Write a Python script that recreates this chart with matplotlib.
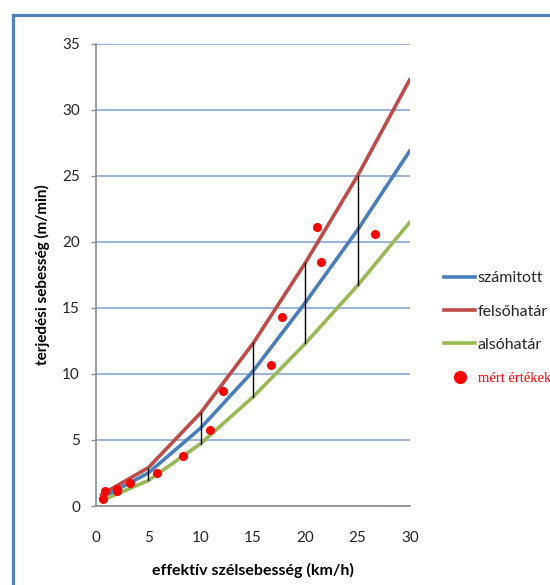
import matplotlib
matplotlib.use("Agg")
import matplotlib.pyplot as plt
from matplotlib.patches import Rectangle
from matplotlib.lines import Line2D

plt.rcParams['font.family'] = ['Lato', 'DejaVu Sans']

# data
x_line = [0.5, 5, 10, 15, 20, 25, 30]
szamitott = [0.6, 2.5, 5.9, 10.2, 15.4, 20.9, 26.9]
felsohatar = [0.85, 2.9, 7.05, 12.3, 18.4, 25.0, 32.3]
alsohatar = [0.4, 1.93, 4.72, 8.25, 12.3, 16.7, 21.5]
err_idx = [1, 2, 3, 4, 5]

mert_x = [0.64, 0.86, 1.98, 2.05, 3.25, 5.8, 8.3, 10.9, 12.1, 16.7, 17.8, 21.1, 21.5, 26.7]
mert_y = [0.54, 1.17, 1.12, 1.32, 1.75, 2.5, 3.8, 5.75, 8.7, 10.65, 14.3, 21.1, 18.5, 20.6]

x_ticks = [0, 5, 10, 15, 20, 25, 30]
y_ticks = [0, 5, 10, 15, 20, 25, 30, 35]

W, H = 550, 585
fig = plt.figure(figsize=(W / 100, H / 100), dpi=100)
ax = fig.add_axes([96 / W, 1 - 506 / H, (410 - 96) / W, (506 - 43.5) / H])

# outer frame
fig.patches.append(Rectangle((13 / W, -0.2), 1.5, 1.2 - 15 / H, transform=fig.transFigure,
                             fill=False, edgecolor='#4F81BD', linewidth=2.3, clip_on=False))

blue, red, green = '#4A7EBB', '#BE4B48', '#98B954'

for i in err_idx:
    ax.plot([x_line[i], x_line[i]], [alsohatar[i], felsohatar[i]], color='black', lw=1.0, zorder=3)

ax.plot(x_line, szamitott, color=blue, lw=2.6, zorder=2, solid_capstyle='round')
ax.plot(x_line, felsohatar, color=red, lw=2.6, zorder=2, solid_capstyle='round')
ax.plot(x_line, alsohatar, color=green, lw=2.6, zorder=2, solid_capstyle='round')
ax.plot(mert_x, mert_y, 'o', color='#FF0000', ms=6.5, mew=0, zorder=4)

ax.set_xlim(0, 30)
ax.set_ylim(0, 35)
ax.set_xticks(x_ticks)
ax.set_yticks(y_ticks)
ax.yaxis.grid(True, color='#89A8D2', lw=1.2)
ax.set_axisbelow(True)
for s in ['top', 'right']:
    ax.spines[s].set_visible(False)
for s in ['left', 'bottom']:
    ax.spines[s].set_color('#8C8C8C')
    ax.spines[s].set_linewidth(1.2)
ax.tick_params(axis='y', length=3.5, width=1.0, color='#8C8C8C', pad=8, labelsize=11, labelcolor='#262626')
ax.tick_params(axis='x', length=0, pad=18, labelsize=11, labelcolor='#262626')

ax.set_ylabel('terjedési sebesség (m/min)', fontsize=11, fontweight='bold', labelpad=9)
ax.set_xlabel('effektív szélsebesség (km/h)', fontsize=11.5, fontweight='bold', labelpad=13)

handles = [Line2D([], [], color=blue, lw=2.6),
           Line2D([], [], color=red, lw=2.6),
           Line2D([], [], color=green, lw=2.6),
           Line2D([], [], marker='o', ls='', color='#FF0000', ms=9.5, mew=0)]
labels = ['számitott', 'felsőhatár', 'alsóhatár', 'mért értékek']
leg = fig.legend(handles, labels, loc='upper left', bbox_to_anchor=(444 / W, 1 - 271 / H),
                 frameon=False, fontsize=11.5, handlelength=1.95, handletextpad=0.15,
                 labelspacing=1.2, borderpad=0, borderaxespad=0)
txts = leg.get_texts()
for t in txts[:3]:
    t.set_color('#262626')
txts[3].set_color('#FF0000')
txts[3].set_fontfamily(['Liberation Serif'])
txts[3].set_fontsize(10.5)

fig.savefig('out.png', dpi=100)
